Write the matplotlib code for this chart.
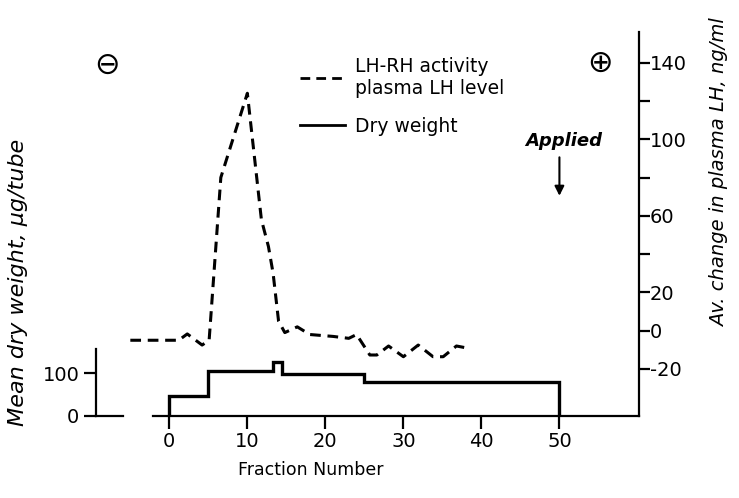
import matplotlib
matplotlib.use("Agg")
import matplotlib.pyplot as plt
from matplotlib.lines import Line2D
from matplotlib import font_manager

names = sorted(set(f.name for f in font_manager.fontManager.ttflist))
print(names)

plt.rcParams['font.family'] = ['DejaVu Sans']

# dashed curve: LH-RH activity (plasma LH level), right axis
lh_fraction = [-5, 1.2, 2.3, 4.2, 5.1, 6.6, 10, 11.8, 12.7, 13.3, 14.0, 14.8, 16.4,
               18, 21, 23, 24, 25.7, 26.6, 28.1, 30, 31.9, 33.8, 35.1, 36.8, 38.1]
lh_change = [-5, -5, -1.7, -7.5, -5, 80, 124, 58, 44, 30, 5, -1, 2,
             -2, -3, -4, -2, -12.7, -12.7, -8, -13.6, -7.5, -13.6, -13.6, -8, -9]

# solid steps: dry weight, left axis
dw_edges = [0, 5, 13.3, 14.5, 25, 50]
dw_values = [47, 104, 127, 98, 79]

x_ticks = [0, 10, 20, 30, 40, 50]
lh_ticks = [-20, 0, 20, 40, 60, 80, 100, 120, 140]
lh_labels = ['-20', '0', '20', '', '60', '', '100', '', '140']

fig = plt.figure(figsize=(7.39, 4.98), dpi=100)
ax = fig.add_axes([96/739, 1 - 415.5/498, 543/739, 383.5/498])
ax2 = ax.twinx()

fs = 14

# dry weight
ax.stairs(dw_values, dw_edges, baseline=0, color='k', lw=2.4)
ax.set_xlim(-9.4, 60.2)
ax.set_ylim(0, 904)
ax.set_xticks(x_ticks)
ax.set_yticks([0, 100])
ax.spines['top'].set_visible(False)
ax.spines['right'].set_visible(False)
ax.spines['left'].set_bounds(0, 157)
ax.spines['bottom'].set_bounds(-2.1, 60.2)
for s in ['left', 'bottom']:
    ax.spines[s].set_linewidth(1.6)
ax.plot([0, 0.05], [0, 0], transform=ax.transAxes, color='k', lw=1.6, clip_on=False)
ax.tick_params(axis='both', direction='out', length=9, width=1.6, labelsize=fs, pad=3)

# LH curve
ax2.plot(lh_fraction, lh_change, color='k', lw=2.2, linestyle=(0, (3.5, 2.2)))
ax2.set_ylim(-44.3, 156)
ax2.set_yticks(lh_ticks)
ax2.set_yticklabels(lh_labels)
for s in ['top', 'left', 'bottom']:
    ax2.spines[s].set_visible(False)
ax2.spines['right'].set_linewidth(1.6)
ax2.tick_params(axis='y', direction='out', length=8, width=1.6, labelsize=fs, pad=0)

# legend
handles = [Line2D([], [], color='k', lw=2, linestyle=(0, (3.5, 2.2))),
           Line2D([], [], color='k', lw=2)]
leg = fig.legend(handles, ['LH-RH activity\nplasma LH level', 'Dry weight'],
                 loc='upper left', bbox_to_anchor=(300/739, 1 - 57/498),
                 frameon=False, fontsize=13.5, handlelength=2.4, handletextpad=0.55,
                 borderpad=0, borderaxespad=0, labelspacing=1.0)

# applied arrow
ax2.annotate('', xy=(50, 69), xytext=(50, 92),
             arrowprops=dict(arrowstyle='-|>', color='k', lw=1.5, mutation_scale=14))
ax2.text(50.5, 99, 'Applied', ha='center', va='center', fontsize=13,
         style='italic', fontweight='bold')

# electrode signs
fig.text(107/739, 1 - 65/498, '\u2296', ha='center', va='center', fontsize=22)
fig.text(600/739, 1 - 63/498, '\u2295', ha='center', va='center', fontsize=22)

# axis labels
fig.text(311/739, 1 - 470/498, 'Fraction Number', ha='center', va='center', fontsize=12.5)
fig.text(18/739, 1 - 282/498, 'Mean dry weight, \u03bcg/tube', ha='center', va='center',
         rotation=90, style='italic', fontsize=16)
fig.text(720/739, 1 - 173/498, 'Av. change in plasma LH, ng/ml', ha='center', va='center',
         rotation=90, style='italic', fontsize=14)

fig.savefig('out.png', dpi=100)
